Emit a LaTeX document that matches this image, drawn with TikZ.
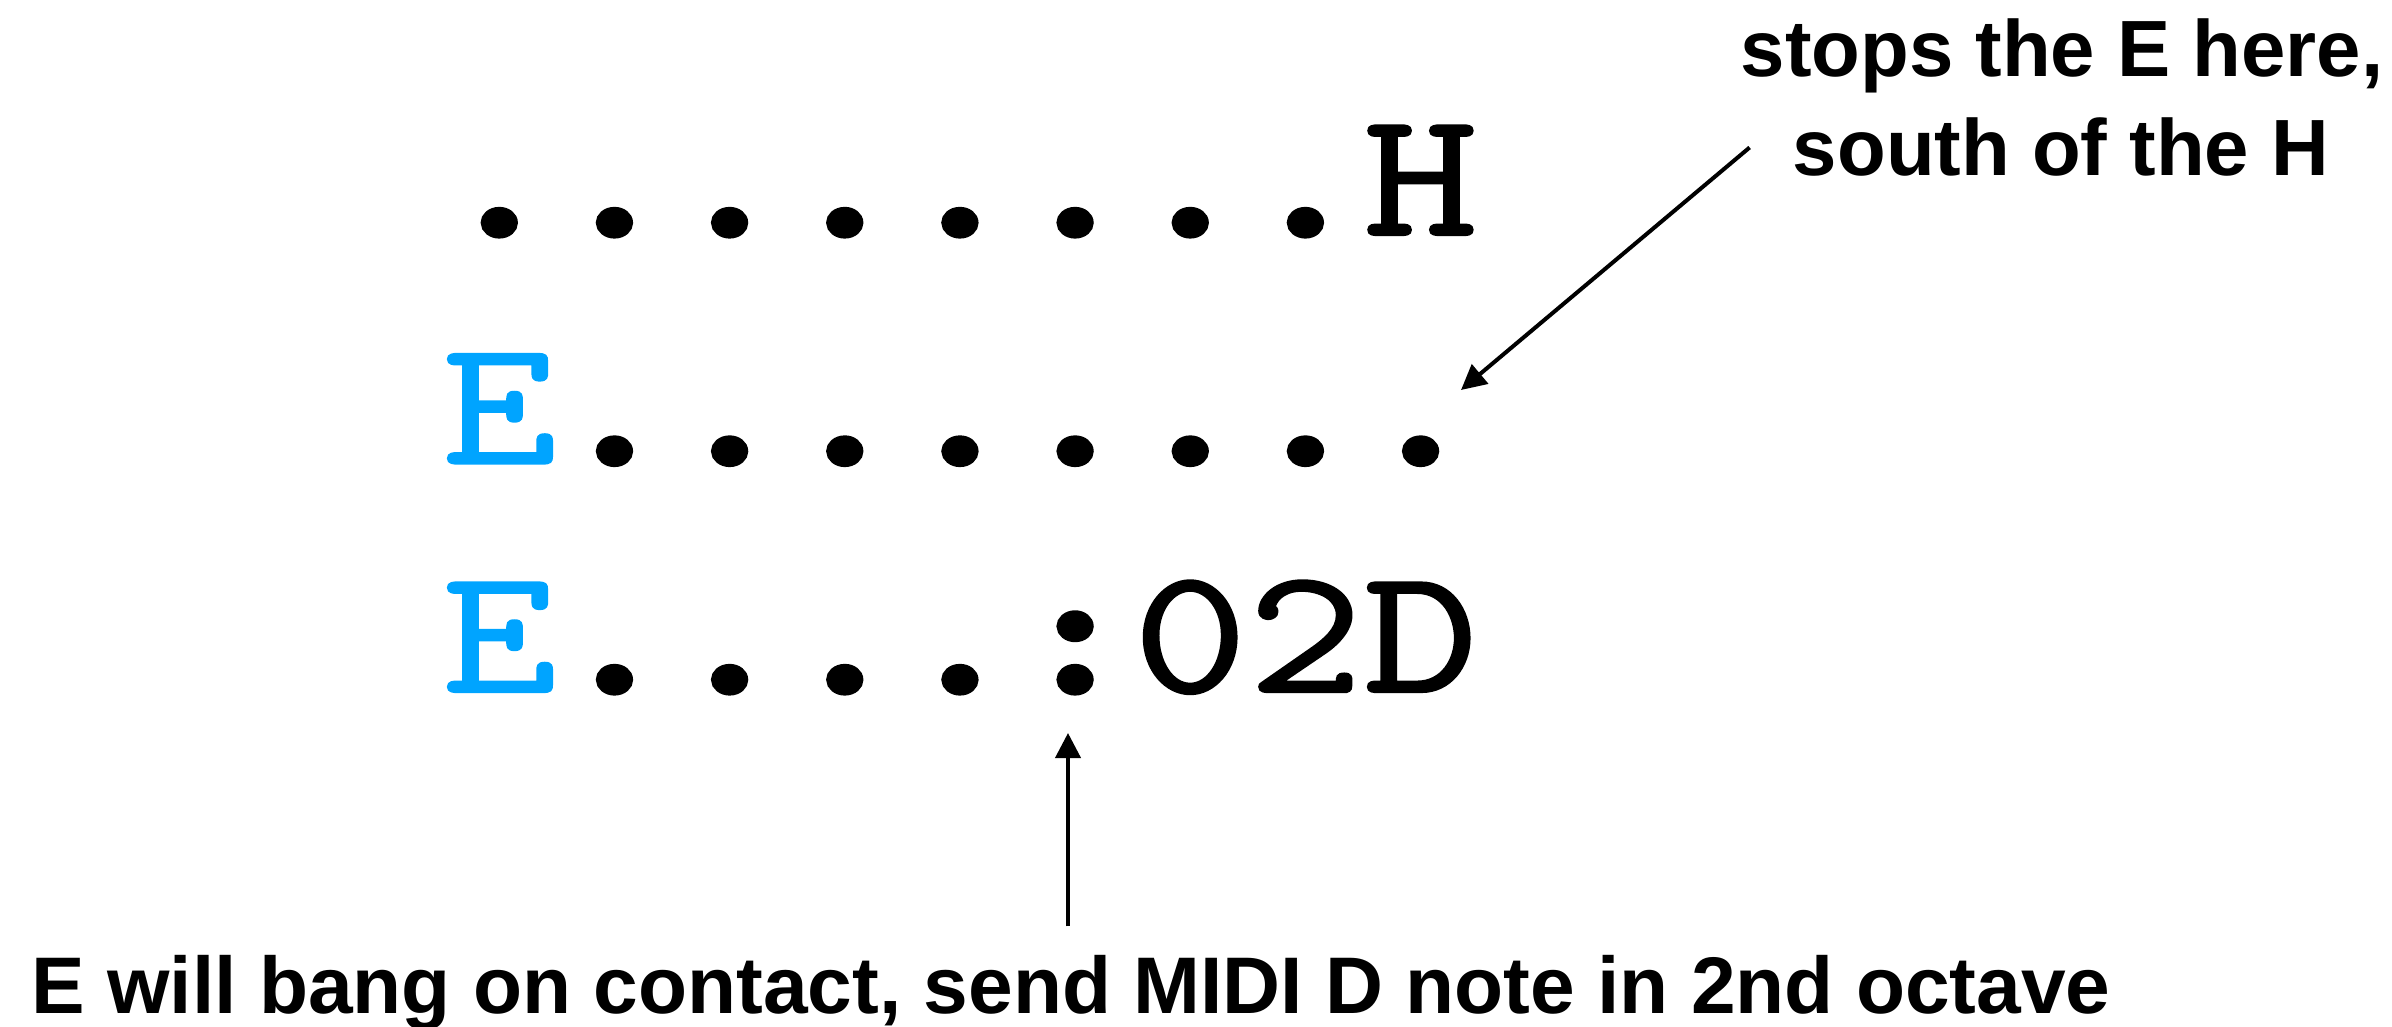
\documentclass[tikz,border=0pt]{standalone}
\usepackage{fontspec}
\setmainfont{Liberation Sans}
\usetikzlibrary{arrows.meta,calc}
\definecolor{eblue}{HTML}{00A4FF}
% slab-serif typewriter face for the grid rows, widened to a Courier-like pitch
\newfontfamily\gridface{Latin Modern Mono}[FakeStretch=1.248,FakeBold=1.2]
% heavier cut of the same face for the full stops and colon (same pitch)
\newfontfamily\gridpunct{lmmonolt10-bold.otf}[FakeStretch=1.224,FakeBold=4]
\newcommand\typewriter{\gridface\fontsize{102}{120}\selectfont}
\newcommand\notefont{\bfseries\fontsize{45.4}{56}\selectfont}
\newcommand\bottomfont{\bfseries\fontsize{45.7}{56}\selectfont}

\begin{document}
\begin{tikzpicture}[x=0.02cm,y=-0.02cm,
  row/.style={anchor=base west, inner sep=0pt, font=\typewriter},
  note/.style={anchor=base, inner sep=0pt, font=\notefont},
  pointer/.style={line width=0.08cm, -{Triangle[length=0.5cm,width=0.5cm]}}]
\useasboundingbox (0,0) rectangle (2392,1027);

% grid rows
\node[row] (r1) at (441.35,235)   {{\gridpunct ........}H};
\node[row] (r2) at (441.35,463.5) {\textcolor{eblue}{E}{\gridpunct ........}};
\node[row] (r3) at (441.35,692)   {\textcolor{eblue}{E}{\gridpunct ....:}02D};

% annotations
\node[note] (n1) at (2062,77)  {stops the E here,};
\node[note] (n2) at (2061,176) {south of the H};
\node[note,font=\bottomfont] (n3) at (1071,1013) {E will bang on contact, send MIDI D note in 2nd octave};

% arrow targets
\coordinate (tip1) at (1461,390);
\coordinate (tip2) at (1068,733);

\draw[pointer] ([xshift=-0.86cm]n2.west) -- (tip1);
\draw[pointer] ($(tip2 |- n3.north)+(0,-28)$) -- (tip2);
\end{tikzpicture}
\end{document}
